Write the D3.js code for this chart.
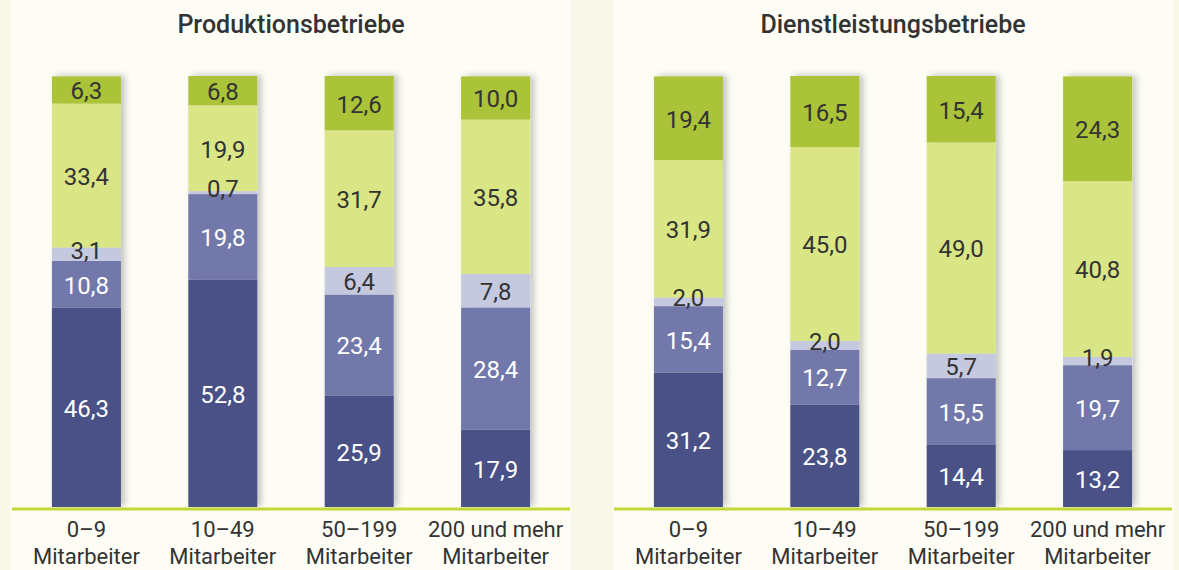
<!DOCTYPE html>
<html>
<head>
<meta charset="utf-8">
<script src="https://cdn.jsdelivr.net/npm/d3@7"></script>
<style>
  html, body { margin: 0; padding: 0; background: #f8f9e9; }
  svg { display: block; }
</style>
</head>
<body>
<svg id="chart" width="1179" height="570"></svg>
<script>
// Kategorien (Betriebsgröße), zwei Zeilen je Beschriftung
let categories = ['0–9', '10–49', '50–199', '200 und mehr'];
let categorySub = 'Mitarbeiter';
let panelTitles = ['Produktionsbetriebe', 'Dienstleistungsbetriebe'];

// Segmente von unten nach oben
let seriesKeys = ['s1', 's2', 's3', 's4', 's5'];

// Produktionsbetriebe
let prodS1 = [46.3, 52.8, 25.9, 17.9];
let prodS2 = [10.8, 19.8, 23.4, 28.4];
let prodS3 = [3.1, 0.7, 6.4, 7.8];
let prodS4 = [33.4, 19.9, 31.7, 35.8];
let prodS5 = [6.3, 6.8, 12.6, 10.0];

// Dienstleistungsbetriebe
let dienS1 = [31.2, 23.8, 14.4, 13.2];
let dienS2 = [15.4, 12.7, 15.5, 19.7];
let dienS3 = [2.0, 2.0, 5.7, 1.9];
let dienS4 = [31.9, 45.0, 49.0, 40.8];
let dienS5 = [19.4, 16.5, 15.4, 24.3];

let colors = { s1: '#4a5186', s2: '#7278a9', s3: '#c4c9e0', s4: '#dae585', s5: '#abc337' };
let labelColors = { s1: '#ffffff', s2: '#ffffff', s3: '#333333', s4: '#333333', s5: '#333333' };

function buildRows(a, b, c, d, e) {
    return categories.map((cat, i) => ({ cat: cat, s1: a[i], s2: b[i], s3: c[i], s4: d[i], s5: e[i] }));
}

let panels = [
    { title: panelTitles[0], rows: buildRows(prodS1, prodS2, prodS3, prodS4, prodS5), x0: 11, x1: 571 },
    { title: panelTitles[1], rows: buildRows(dienS1, dienS2, dienS3, dienS4, dienS5), x0: 613, x1: 1173 }
];

let svg = d3.select('#chart');
let fmt = v => d3.format('.1f')(v).replace('.', ',');

// Schatten der Balken
let defs = svg.append('defs');
let filter = defs.append('filter').attr('id', 'shadow')
    .attr('x', '-20%').attr('y', '-10%').attr('width', '150%').attr('height', '120%');
filter.append('feDropShadow')
    .attr('dx', 4).attr('dy', -1).attr('stdDeviation', 3)
    .attr('flood-color', '#000').attr('flood-opacity', 0.22);

let yTop = 76, yBottom = 507;
let y = d3.scaleLinear().domain([0, 100]).range([yBottom, yTop]);
let stack = d3.stack().keys(seriesKeys);

panels.forEach(p => {
    let g = svg.append('g');

    g.append('rect')
        .attr('x', p.x0).attr('y', 0)
        .attr('width', p.x1 - p.x0).attr('height', 570)
        .attr('fill', '#fdfdf6');

    g.append('text')
        .attr('x', (p.x0 + p.x1) / 2).attr('y', 33)
        .attr('text-anchor', 'middle')
        .attr('font-family', 'Roboto, sans-serif')
        .attr('font-weight', 500)
        .attr('font-size', 25)
        .attr('fill', '#333')
        .text(p.title);

    let x = d3.scaleBand().domain(categories)
        .range([p.x0, p.x1]).paddingInner(0.494).paddingOuter(0.3);

    let series = stack(p.rows);

    // Balken
    let bars = g.append('g').attr('filter', 'url(#shadow)');
    series.forEach(s => {
        bars.selectAll('rect.' + s.key).data(s).enter()
            .append('rect')
            .attr('class', s.key)
            .attr('x', d => x(d.data.cat))
            .attr('width', x.bandwidth())
            .attr('y', d => y(d[1]))
            .attr('height', d => y(d[0]) - y(d[1]))
            .attr('fill', colors[s.key]);
    });

    // Werte
    series.forEach(s => {
        g.selectAll('text.v' + s.key).data(s).enter()
            .append('text')
            .attr('class', 'v' + s.key)
            .attr('x', d => x(d.data.cat) + x.bandwidth() / 2)
            .attr('y', d => {
                let mid = (y(d[0]) + y(d[1])) / 2;
                //kleine Segmente: Beschriftung etwas nach oben
                return (d[1] - d[0] < 4 ? mid - 4 : mid + 1);
            })
            .attr('dy', '0.35em')
            .attr('text-anchor', 'middle')
            .attr('font-family', 'Roboto, sans-serif')
            .attr('font-size', 24)
            .attr('fill', labelColors[s.key])
            .text(d => fmt(d[1] - d[0]));
    });

    // Grundlinie
    g.append('line')
        .attr('x1', p.x0 + 1).attr('x2', p.x1 - 1)
        .attr('y1', 509).attr('y2', 509)
        .attr('stroke', '#c3d838').attr('stroke-width', 3);

    // Achsenbeschriftung
    let lab = g.selectAll('text.cat').data(categories).enter()
        .append('text')
        .attr('class', 'cat')
        .attr('text-anchor', 'middle')
        .attr('font-family', 'Roboto, sans-serif')
        .attr('font-size', 22)
        .attr('fill', '#333');
    lab.append('tspan')
        .attr('x', d => x(d) + x.bandwidth() / 2).attr('y', 537)
        .text(d => d);
    lab.append('tspan')
        .attr('x', d => x(d) + x.bandwidth() / 2).attr('y', 564)
        .text(categorySub);
});
</script>
</body>
</html>
